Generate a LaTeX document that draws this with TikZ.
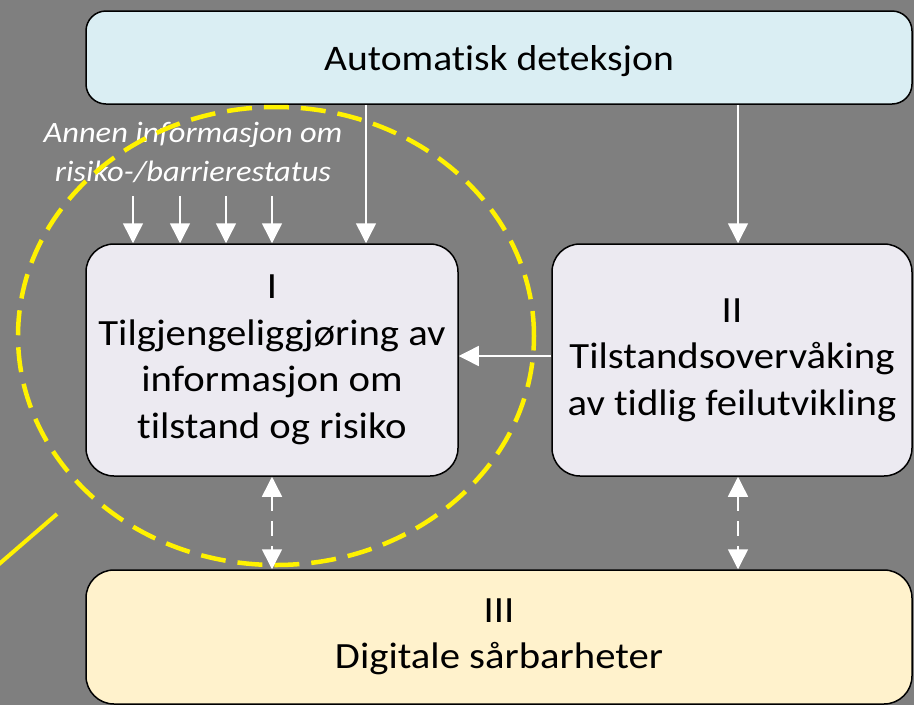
\documentclass[tikz,border=0pt]{standalone}
\usepackage{fontspec}
\setmainfont{Carlito}[FakeStretch=1.1, Ligatures=NoCommon]
\usetikzlibrary{arrows.meta}
\definecolor{bggray}{HTML}{7F7F7F}
\definecolor{detblue}{HTML}{DAEEF3}
\definecolor{boxlav}{HTML}{ECEAF1}
\definecolor{boxsand}{HTML}{FFF2CC}
\tikzset{
  stage/.style={draw=black, line width=1.5pt, rounded corners=28pt, align=center,
    inner sep=0pt, font=\fontsize{37}{46.5}\selectfont},
  arr/.style={draw=white, line width=1.5pt, -{Triangle[length=20pt,width=20pt]}},
  dblarr/.style={draw=white, line width=1.5pt, dash pattern=on 15pt off 10pt,
    {Triangle[length=20pt,width=20pt]}-{Triangle[length=20pt,width=20pt]}},
  focus/.style={draw=yellow, line width=4.5pt, dash pattern=on 25pt off 12pt}
}
\begin{document}
\begin{tikzpicture}[x=1pt, y=-1pt]
    \fill[bggray] (0,0) rectangle (914,705);
    \useasboundingbox (0,0) rectangle (914,705);
    % boxes
    \node [stage, fill=detblue, rounded corners=20pt, minimum width=826pt, minimum height=93pt,
        font=\fontsize{36}{46.5}\selectfont, text depth=0pt]
        (det) at (499,57.5) {Automatisk deteksjon};
    \node [stage, fill=boxlav, minimum width=372pt, minimum height=232pt]
        (tilg) at (272,360) {I\\Tilgjengeliggjøring av\\informasjon om\\tilstand og risiko};
    \node [stage, fill=boxlav, minimum width=360pt, minimum height=232pt]
        (overv) at (732,360) {II\\Tilstandsovervåking\\av tidlig feilutvikling};
    \node [stage, fill=boxsand, minimum width=826pt, minimum height=134pt]
        (digi) at (499,637) {III\\Digitale sårbarheter};
    \node [text=white, align=center, font=\fontsize{29.5}{39}\selectfont\itshape]
        (annen) at (193,152) {Annen informasjon om\\risiko-/barrierestatus};
    % yellow marking
    \draw [focus] (276,336) ellipse [x radius=258pt, y radius=229pt];
    \coordinate (lnA) at (-2,565);
    \coordinate (lnB) at (57,514);
    \draw [yellow, line width=4pt] (lnA) -- (lnB);
    % connectors
    \foreach \dx [count=\i] in {-139,-92,-46,0} {
        \coordinate (src\i) at ([xshift=\dx pt, yshift=47pt]tilg.north);
        \draw [arr] (src\i) -- (src\i |- tilg.north);
    }
    \coordinate (inA) at ([xshift=94pt]tilg.north);
    \coordinate (inB) at ([xshift=6pt]overv.north);
    \coordinate (inC) at ([xshift=6pt]overv.south);
    \draw [arr] (inA |- det.south) -- (inA);
    \draw [arr] (inB |- det.south) -- (inB);
    \draw [arr] ([yshift=4pt]overv.west) -- ([yshift=4pt]overv.west -| tilg.east);
    \draw [dblarr] (tilg.south) -- (tilg.south |- digi.north);
    \draw [dblarr] (inC) -- (inC |- digi.north);
\end{tikzpicture}
\end{document}
